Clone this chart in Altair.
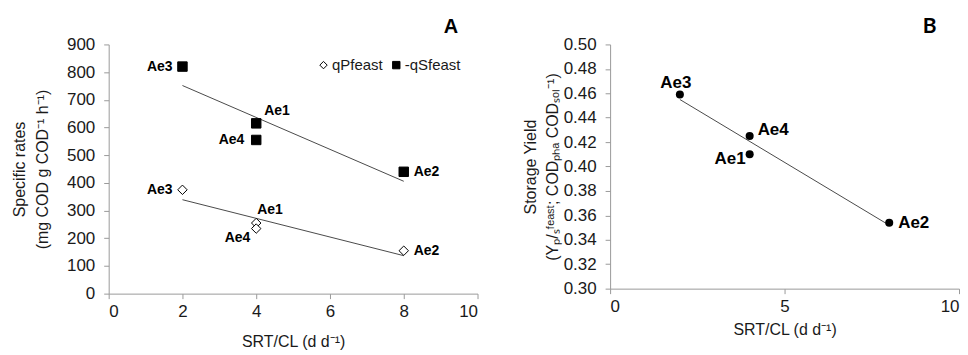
import altair as alt
import pandas as pd

# ---- data ----
reactors = ["Ae1", "Ae2", "Ae3", "Ae4"]
srt_cl = [4, 8, 2, 4]
q_s_feast = [615, 440, 820, 555]      # -qSfeast
q_p_feast = [255, 155, 375, 235]      # qPfeast
storage_yield = [0.410, 0.354, 0.459, 0.425]

series_names = ["qPfeast", "-qSfeast"]
x_ticks_a = [0, 2, 4, 6, 8, 10]
y_ticks_a = [0, 100, 200, 300, 400, 500, 600, 700, 800, 900]
x_ticks_b = [0, 5, 10]
y_ticks_b = [0.30, 0.32, 0.34, 0.36, 0.38, 0.40, 0.42, 0.44, 0.46, 0.48, 0.50]

FONT = "Liberation Sans"
AX = "#9a9a9a"

dfa = pd.DataFrame({
    "reactor": reactors * 2,
    "srt": srt_cl * 2,
    "series": ["-qSfeast"] * 4 + ["qPfeast"] * 4,
    "rate": q_s_feast + q_p_feast,
})
dfb = pd.DataFrame({"reactor": reactors, "srt": srt_cl, "yield": storage_yield})

# ---------------- panel A ----------------
xa = alt.X("srt:Q", scale=alt.Scale(domain=[0, 10], nice=False, zero=False),
           axis=alt.Axis(values=x_ticks_a, title="SRT/CL (d d⁻¹)", grid=False,
                         labelFontSize=17, titleFontSize=16, titleFontWeight="normal",
                         labelPadding=5, titlePadding=14, tickSize=5, labelOverlap=False))
ya = alt.Y("rate:Q", scale=alt.Scale(domain=[0, 900], nice=False, zero=False),
           axis=alt.Axis(values=y_ticks_a, title=["Specific rates", "(mg COD g COD⁻¹ h⁻¹)"],
                         grid=False, labelFontSize=17, titleFontSize=16,
                         titleFontWeight="normal", labelPadding=9, tickSize=5,
                         labelOverlap=False,
                         titleX=-89, titleBaseline="middle", titleLineHeight=23))

base_a = alt.Chart(dfa)

leg = alt.Legend(title=None, orient="none", direction="horizontal",
                 legendX=208, legendY=13, labelFontSize=15,
                 symbolSize=55, symbolStrokeColor="black",
                 symbolStrokeWidth=1, columnPadding=6,
                 labelOffset=1, labelFont=FONT, labelColor="#1a1a1a")

pts_a = base_a.mark_point(size=90, strokeWidth=1, opacity=1).encode(
    x=xa, y=ya,
    shape=alt.Shape("series:N", scale=alt.Scale(domain=series_names, range=["diamond", "square"]),
                    legend=leg),
    fill=alt.Fill("series:N", scale=alt.Scale(domain=series_names, range=["white", "black"]),
                  legend=leg),
    stroke=alt.Stroke("series:N", scale=alt.Scale(domain=series_names, range=["black", "black"]),
                      legend=leg),
)

line_a = base_a.transform_regression("srt", "rate", groupby=["series"]).mark_line(
    color="#4a4a4a", strokeWidth=1).encode(x=xa, y=ya, detail="series:N")

placements_a = [
    # (series, reactors, align, dx, dy)
    ("-qSfeast", ["Ae3"], "right", -10, 0),
    ("-qSfeast", ["Ae1"], "left", 8, -12),
    ("-qSfeast", ["Ae4"], "right", -12, 0),
    ("-qSfeast", ["Ae2"], "left", 10, 0),
    ("qPfeast", ["Ae3"], "right", -10, 0),
    ("qPfeast", ["Ae1"], "left", 1, -13),
    ("qPfeast", ["Ae4"], "right", -6, 9),
    ("qPfeast", ["Ae2"], "left", 10, 0),
]
labels_a = []
for s, rs, al, dx, dy in placements_a:
    labels_a.append(
        base_a.transform_filter(alt.datum.series == s)
        .transform_filter(alt.FieldOneOfPredicate(field="reactor", oneOf=rs))
        .mark_text(align=al, baseline="middle", dx=dx, dy=dy, fontSize=14,
                   fontWeight="bold", font=FONT, color="black")
        .encode(x=xa, y=ya, text="reactor:N")
    )

panel_a = alt.layer(line_a, pts_a, *labels_a).properties(
    width=370, height=250,
    title=alt.TitleParams("A", anchor="end", fontSize=20, font=FONT, fontWeight="bold",
                          dx=-20, offset=-2, color="black"),
)

# ---------------- panel B ----------------
xb = alt.X("srt:Q", scale=alt.Scale(domain=[0, 10], nice=False, zero=False),
           axis=alt.Axis(values=x_ticks_b, title="SRT/CL (d d⁻¹)", grid=False,
                         labelFontSize=17, titleFontSize=16, titleFontWeight="normal",
                         labelPadding=5, titlePadding=7, tickSize=5, labelOverlap=False))
yb = alt.Y("yield:Q", scale=alt.Scale(domain=[0.30, 0.50], nice=False, zero=False),
           axis=alt.Axis(values=y_ticks_b, format=".2f",
                         title=["Storage Yield", "(Yₚ/ₛᶠᵉᵃˢᵗ; CODₚₕₐ CODₛₒₗ⁻¹)"],
                         grid=False, labelFontSize=17, titleFontSize=16,
                         titleFontWeight="normal", labelPadding=9, tickSize=5,
                         labelOverlap=False,
                         titleX=-80, titleBaseline="middle", titleLineHeight=22))

base_b = alt.Chart(dfb)
pts_b = base_b.mark_circle(size=65, color="black", opacity=1).encode(x=xb, y=yb)
line_b = base_b.transform_regression("srt", "yield").mark_line(
    color="#4a4a4a", strokeWidth=1).encode(x=xb, y=yb)

placements_b = [
    (["Ae3"], "center", -4, -12),
    (["Ae4"], "left", 8, -6),
    (["Ae1"], "right", -4, 5),
    (["Ae2"], "left", 9, 0),
]
labels_b = []
for rs, al, dx, dy in placements_b:
    labels_b.append(
        base_b.transform_filter(alt.FieldOneOfPredicate(field="reactor", oneOf=rs))
        .mark_text(align=al, baseline="middle", dx=dx, dy=dy, fontSize=17,
                   fontWeight="bold", font=FONT, color="black")
        .encode(x=xb, y=yb, text="reactor:N")
    )

panel_b = alt.layer(line_b, pts_b, *labels_b).properties(
    width=350, height=245,
    title=alt.TitleParams("B", anchor="end", fontSize=21, font="Lato", fontWeight="bold",
                          dx=-23, offset=-2, color="black"),
)

chart = alt.hconcat(panel_a, panel_b, spacing=133, bounds="flush").properties(
    padding={"left": 3, "top": 8, "right": 0, "bottom": 0}
).configure(font=FONT).configure_view(stroke=None).configure_axis(
    domainColor=AX, tickColor=AX, labelColor="#1a1a1a", titleColor="#1a1a1a",
    labelFont=FONT, titleFont=FONT,
)

chart.save("out.html", embed_options={"renderer": "svg", "actions": False})
